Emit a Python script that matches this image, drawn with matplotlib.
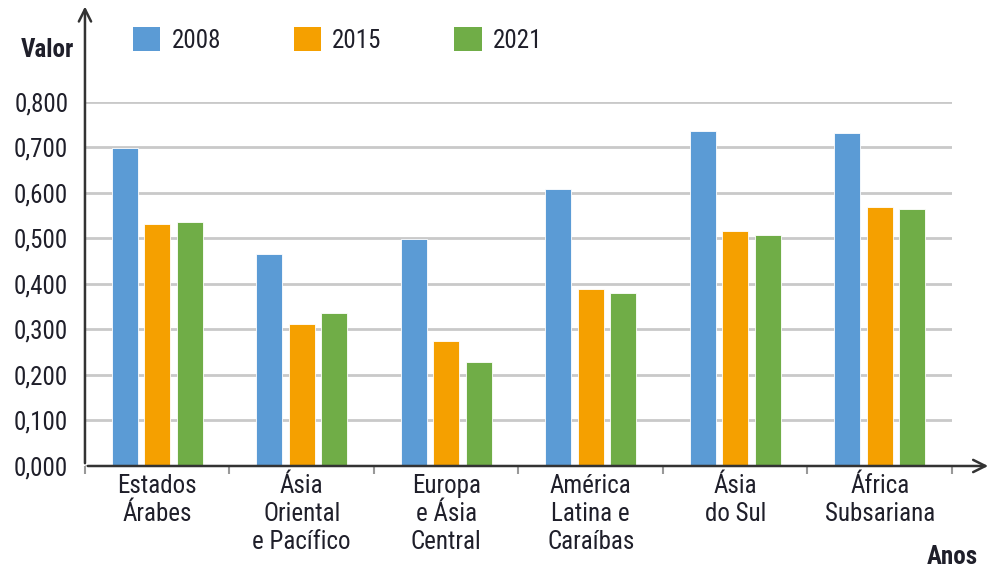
"""IDH-type index by region, 2008 / 2015 / 2021 (grouped bars)."""
import numpy as np
import matplotlib
matplotlib.use("Agg")
import matplotlib.pyplot as plt
from matplotlib.patches import Patch
from matplotlib.ticker import FuncFormatter

REGIONS = ["Estados\nÁrabes", "Ásia\nOriental\ne Pacífico", "Europa\ne Ásia\nCentral",
           "América\nLatina e\nCaraíbas", "Ásia\ndo Sul", "África\nSubsariana"]
YEARS = ["2008", "2015", "2021"]
V2008 = [0.699, 0.466, 0.499, 0.609, 0.736, 0.732]
V2015 = [0.532, 0.312, 0.275, 0.389, 0.516, 0.569]
V2021 = [0.536, 0.336, 0.229, 0.380, 0.508, 0.565]
COL = ["#5b9bd5", "#f5a000", "#70ad47"]
TXT = "#1f1f2a"

plt.rcParams["font.family"] = ["Roboto Condensed", "DejaVu Sans"]

fig = plt.figure(figsize=(9.88, 5.71), dpi=100)
ax = fig.add_axes([0.086, 0.1839, 0.8775, 0.6375])

x = np.arange(len(REGIONS)) + 0.5
w, step = 0.18, 0.225
for k, vals in enumerate([V2008, V2015, V2021]):
    ax.bar(x + (k - 1) * step, vals, width=w, color=COL[k], zorder=3,
           edgecolor="white", linewidth=0.6)

ax.set_xlim(0, len(REGIONS))
ax.set_ylim(0, 0.8)
ax.set_yticks(np.arange(0, 0.81, 0.1))
ax.yaxis.set_major_formatter(FuncFormatter(lambda v, p: ("%.3f" % v).replace(".", ",")))
ax.tick_params(axis="y", length=0, labelsize=18, colors=TXT, pad=12)
ax.grid(axis="y", color="#c9c9c9", lw=2, zorder=0)

ax.set_xticks(np.arange(len(REGIONS) + 1))
ax.set_xticklabels([])
ax.set_xticks(x, minor=True)
ax.set_xticklabels(REGIONS, minor=True, fontsize=18, color=TXT, linespacing=1.2, va="top")
ax.tick_params(axis="x", which="major", length=6, width=1.5, color="#999999")
ax.tick_params(axis="x", which="minor", length=0, pad=6)

for s in ["top", "right", "left", "bottom"]:
    ax.spines[s].set_visible(False)
# axes with arrow heads
ax.annotate("", xy=(0, 1.27), xytext=(0, 0), xycoords="axes fraction",
            arrowprops=dict(arrowstyle="->", lw=1.8, color="#333333", mutation_scale=22),
            annotation_clip=False)
ax.annotate("", xy=(1.045, 0), xytext=(0, 0), xycoords="axes fraction",
            arrowprops=dict(arrowstyle="->", lw=1.8, color="#333333", mutation_scale=22),
            annotation_clip=False)

fig.text(0.048, 0.912, "Valor", fontsize=18, fontweight="bold", color=TXT, ha="center", va="center")
fig.text(0.964, 0.024, "Anos", fontsize=18, fontweight="bold", color=TXT, ha="center", va="center")

handles = [Patch(facecolor=c, label=y) for c, y in zip(COL, YEARS)]
fig.legend(handles=handles, loc="center left", bbox_to_anchor=(0.1346, 0.930), ncol=3,
           frameon=False, fontsize=18, handlelength=1.1, handleheight=1.1,
           columnspacing=2.9, handletextpad=0.45, borderpad=0, borderaxespad=0,
           labelcolor=TXT)

fig.savefig("out.png", dpi=100)
plt.close(fig)
